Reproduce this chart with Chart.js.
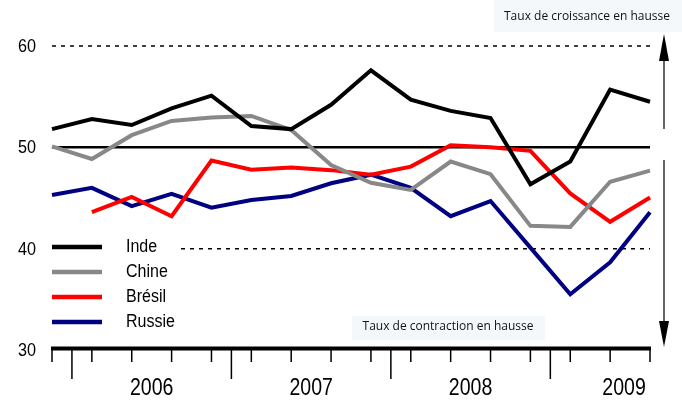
<!DOCTYPE html>
<html>
<head>
<meta charset="utf-8">
<script src="https://cdn.jsdelivr.net/npm/chart.js@4"></script>
<style>
  html, body { margin: 0; padding: 0; background: #fff; }
  #wrap { width: 682px; height: 400px; }
</style>
</head>
<body>
<div id="wrap"><canvas id="pmiChart" width="682" height="400"></canvas></div>
<script>
const quarters = ["T4 2005", "T1 2006", "T2 2006", "T3 2006", "T4 2006", "T1 2007", "T2 2007", "T3 2007",
  "T4 2007", "T1 2008", "T2 2008", "T3 2008", "T4 2008", "T1 2009", "T2 2009", "T3 2009"];
const inde = [51.8, 52.8, 52.2, 53.85, 55.1, 52.1, 51.8, 54.2, 57.6, 54.7, 53.6, 52.9, 46.35, 48.6, 55.7, 54.5];
const chine = [50.1, 48.85, 51.2, 52.6, 52.95, 53.1, 51.7, 48.25, 46.5, 45.8, 48.6, 47.35, 42.25, 42.15, 46.6, 47.7];
const bresil = [null, 43.6, 45.1, 43.2, 48.7, 47.8, 48.0, 47.75, 47.3, 48.1, 50.2, 50.0, 49.65, 45.45, 42.65, 45.05];
const russie = [45.3, 46.0, 44.2, 45.4, 44.05, 44.8, 45.2, 46.45, 47.3, 46.0, 43.2, 44.7, 40.1, 35.5, 38.65, 43.6];
const yTicks = [30, 40, 50, 60];
const years = ["2006", "2007", "2008", "2009"];
const yearCenters = [2.5, 6.5, 10.5, 14.35];
const yearBounds = [0.5, 4.5, 8.5, 12.5];
const upText = "Taux de croissance en hausse";
const downText = "Taux de contraction en hausse";

const SANS = '"Liberation Sans", Arial, sans-serif';
const NOTE = '"Open Sans", "Noto Sans", sans-serif';

const series = [
  { label: "Inde", data: inde, color: "#000000" },
  { label: "Chine", data: chine, color: "#888888" },
  { label: "Brésil", data: bresil, color: "#ff0000" },
  { label: "Russie", data: russie, color: "#000080" },
];

// condensed text: no narrow font installed, so squeeze horizontally
function narrowText(ctx, text, x, y, align, sx) {
  ctx.save();
  ctx.translate(x, y);
  ctx.scale(sx, 1);
  ctx.textAlign = align;
  ctx.fillText(text, 0, 0);
  ctx.restore();
}

const decor = {
  id: "decor",
  beforeDatasetsDraw(chart) {
    const { ctx, scales: { x, y } } = chart;
    const x0 = x.getPixelForValue(0), x1 = x.getPixelForValue(15);
    ctx.save();
    // line at 50
    ctx.strokeStyle = "#000";
    ctx.lineWidth = 2.5;
    ctx.beginPath();
    ctx.moveTo(x0, y.getPixelForValue(50));
    ctx.lineTo(x1, y.getPixelForValue(50));
    ctx.stroke();
    // dotted lines at 60 and 40
    ctx.lineWidth = 1.5;
    ctx.setLineDash([4, 5]);
    ctx.beginPath();
    ctx.moveTo(x0, y.getPixelForValue(60));
    ctx.lineTo(x1, y.getPixelForValue(60));
    ctx.moveTo(181, y.getPixelForValue(40));
    ctx.lineTo(x1, y.getPixelForValue(40));
    ctx.stroke();
    ctx.restore();
  },
  afterDraw(chart) {
    const { ctx, scales: { x, y } } = chart;
    const x0 = x.getPixelForValue(0), x1 = x.getPixelForValue(15);
    const yb = y.getPixelForValue(30);
    ctx.save();

    // y labels
    ctx.fillStyle = "#000";
    ctx.font = "18px " + SANS;
    ctx.textBaseline = "middle";
    yTicks.forEach(v => narrowText(ctx, String(v), 36, y.getPixelForValue(v) + 1, "right", 0.9));

    // bottom axis
    ctx.strokeStyle = "#000";
    ctx.lineWidth = 4;
    ctx.beginPath();
    ctx.moveTo(x0 - 1, yb - 1.5);
    ctx.lineTo(x1 + 1, yb - 1.5);
    ctx.stroke();
    ctx.lineWidth = 1.5;
    ctx.beginPath();
    quarters.forEach((q, i) => {
      const px = x.getPixelForValue(i);
      ctx.moveTo(px, yb);
      ctx.lineTo(px, yb + 12);
    });
    yearBounds.forEach(v => {
      const px = x.getPixelForValue(v);
      ctx.moveTo(px, yb);
      ctx.lineTo(px, yb + 29);
    });
    ctx.stroke();

    ctx.font = "23px " + SANS;
    years.forEach((t, i) => narrowText(ctx, t, x.getPixelForValue(yearCenters[i]), 389, "center", 0.85));

    // legend
    ctx.font = "18px " + SANS;
    series.forEach((s, i) => {
      const ly = 247 + i * 25;
      ctx.strokeStyle = s.color;
      ctx.lineWidth = 4.5;
      ctx.beginPath();
      ctx.moveTo(52, ly);
      ctx.lineTo(102, ly);
      ctx.stroke();
      ctx.fillStyle = "#000";
      narrowText(ctx, s.label, 126, ly, "left", 0.89);
    });

    // annotation boxes
    ctx.fillStyle = "#f5f8fb";
    ctx.fillRect(494, 0, 188, 32);
    ctx.fillRect(352, 316, 193, 24);
    ctx.fillStyle = "#111";
    ctx.font = "12px " + NOTE;
    ctx.textAlign = "center";
    ctx.fillText(upText, 587, 17);
    ctx.fillText(downText, 448, 327);

    // arrows
    const ax = 664;
    ctx.strokeStyle = "#000";
    ctx.fillStyle = "#000";
    ctx.lineWidth = 1.2;
    ctx.beginPath();
    ctx.moveTo(ax, 129);
    ctx.lineTo(ax, 60);
    ctx.moveTo(ax, 160);
    ctx.lineTo(ax, 322);
    ctx.stroke();
    ctx.beginPath();
    ctx.moveTo(ax, 34);
    ctx.lineTo(ax - 5, 61);
    ctx.lineTo(ax + 5, 61);
    ctx.closePath();
    ctx.fill();
    ctx.beginPath();
    ctx.moveTo(ax, 347);
    ctx.lineTo(ax - 5, 321);
    ctx.lineTo(ax + 5, 321);
    ctx.closePath();
    ctx.fill();
    ctx.restore();
  },
};

new Chart(document.getElementById("pmiChart"), {
  type: "line",
  data: {
    labels: quarters,
    datasets: series.map(s => ({
      label: s.label,
      data: s.data,
      borderColor: s.color,
      backgroundColor: s.color,
      borderWidth: 4,
      pointRadius: 0,
      tension: 0,
      fill: false,
    })),
  },
  options: {
    responsive: false,
    animation: false,
    layout: { padding: { left: 52, right: 32, top: 46, bottom: 50 } },
    plugins: { legend: { display: false }, tooltip: { enabled: false } },
    scales: {
      x: { display: false, offset: false },
      y: { display: false, min: 30, max: 60 },
    },
  },
  plugins: [decor],
});
</script>
</body>
</html>
